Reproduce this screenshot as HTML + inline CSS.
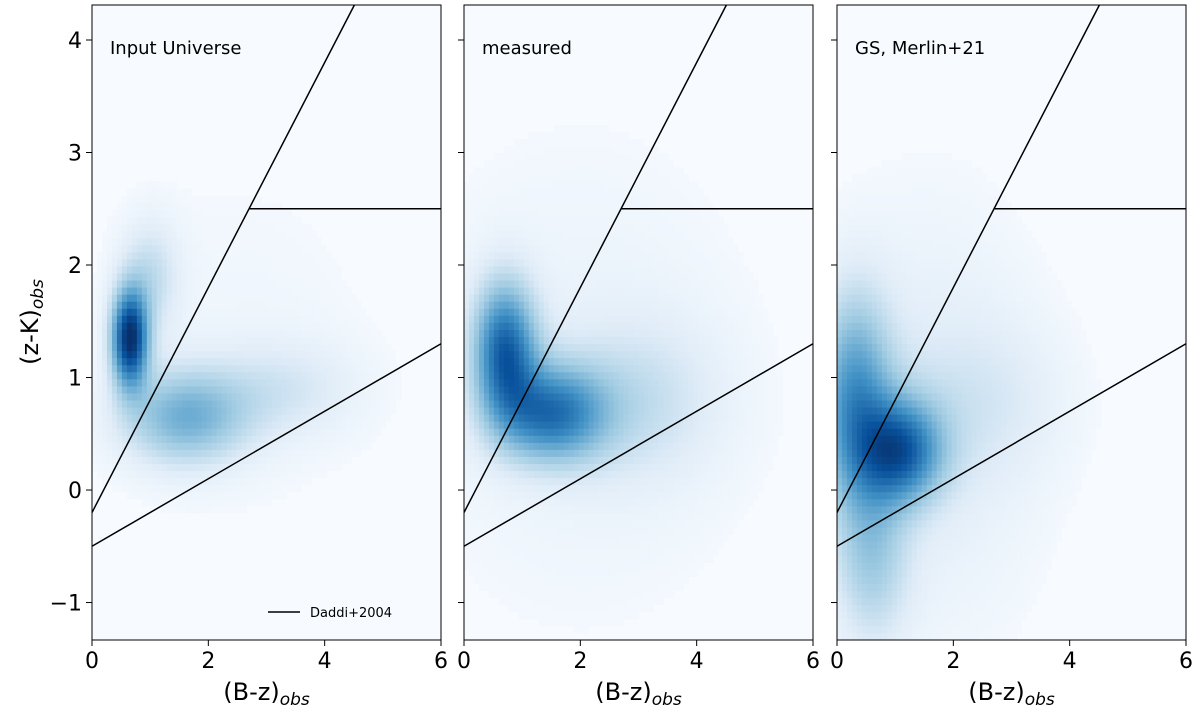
<!DOCTYPE html>
<html><head><meta charset="utf-8">
<style>
body{margin:0;background:#fff;}
svg{display:block;font-family:"DejaVu Sans","Liberation Sans",sans-serif;}
</style></head>
<body>
<svg id="chart" width="1200" height="714" viewBox="0 0 1200 714" xmlns="http://www.w3.org/2000/svg"></svg>
<script>
const panelTitles = ["Input Universe","measured","GS, Merlin+21"];
const xTicks = [0,2,4,6];
const yTicks = [-1,0,1,2,3,4];
// density components per panel: [x, y, sx, sy, weight]
const comps0 = [[0.65,1.35,0.22,0.3,1.0],[1.6,0.65,0.75,0.3,0.45],[3.3,0.9,0.9,0.3,0.15],[1.0,1.9,0.35,0.35,0.22],[2.5,1.3,2.0,1.3,0.05]];
const comps1 = [[0.7,1.25,0.38,0.42,0.75],[1.5,0.68,0.65,0.3,0.65],[3.0,0.8,1.0,0.5,0.18],[2.0,1.0,2.2,1.6,0.08]];
const comps2 = [[1.1,0.35,0.5,0.32,0.7],[0.3,0.8,0.45,0.65,0.55],[0.6,-0.6,0.45,0.55,0.28],[1.6,0.6,1.4,1.4,0.13],[2.6,0.8,1.0,0.5,0.1]];
const allComps = [comps0,comps1,comps2];
const daddiSlope = 1.0, daddiIntercept = -0.2;
const lowerSlope = 0.3, lowerIntercept = -0.5;
const horizY = 2.5, horizX0 = 2.7;

const NS="http://www.w3.org/2000/svg";
const svg=document.getElementById('chart');
const panelsX=[[92,441],[464,813],[837,1186]];
const yTop=5,yBot=640, xMin=0,xMax=6, yMinV=-1.333, yMaxV=4.311;
function ys(v){return yBot-(v-yMinV)/(yMaxV-yMinV)*(yBot-yTop);}
function mk(tag,attrs,parent){const e=document.createElementNS(NS,tag);for(const k in attrs)e.setAttribute(k,attrs[k]);(parent||svg).appendChild(e);return e;}
const stops=[[0,[247,251,255]],[0.15,[222,235,247]],[0.35,[158,202,225]],[0.6,[66,146,198]],[0.85,[8,81,156]],[1,[8,48,107]]];
function cmap(t){t=Math.max(0,Math.min(1,t));for(let i=1;i<stops.length;i++){if(t<=stops[i][0]){const a=stops[i-1],b=stops[i];const f=(t-a[0])/(b[0]-a[0]);return 'rgb('+a[1].map((c,j)=>Math.round(c+(b[1][j]-c)*f)).join(',')+')';}}return 'rgb(8,48,107)';}

panelsX.forEach((px,p)=>{
  const xs=v=>px[0]+(v-xMin)/(xMax-xMin)*(px[1]-px[0]);
  const g=mk('g',{});
  
  
  const bg=mk('rect',{x:px[0],y:yTop,width:px[1]-px[0],height:yBot-yTop,fill:'#f7fbff'},g);
  
  
  const cw=(px[1]-px[0])/70, ch=(yBot-yTop)/90;
  const hg=mk('g',{},g);
  
  
  for(let i=0;i<70;i++)for(let j=0;j<90;j++){
    const xv=xMin+(i+0.5)/70*(xMax-xMin), yv=yMinV+(j+0.5)/90*(yMaxV-yMinV);
    let d=0;allComps[p].forEach(c=>{d+=c[4]*Math.exp(-0.5*(((xv-c[0])/c[2])**2+((yv-c[1])/c[3])**2));});
    if(d<0.03)continue;
    mk('rect',{x:xs(xv)-cw/2,y:ys(yv)-ch/2,width:cw+0.4,height:ch+0.4,fill:cmap(d*0.95)},hg);
  }
  const x1=(yMaxV-daddiIntercept)/daddiSlope;
  const l1=mk('line',{x1:xs(0),y1:ys(daddiIntercept),x2:xs(x1),y2:ys(yMaxV),stroke:'#000','stroke-width':1.5},g);
  
  const l2=mk('line',{x1:xs(horizX0),y1:ys(horizY),x2:xs(6),y2:ys(horizY),stroke:'#000','stroke-width':1.5},g);
  
  const l3=mk('line',{x1:xs(0),y1:ys(lowerIntercept),x2:xs(6),y2:ys(lowerIntercept+lowerSlope*6),stroke:'#000','stroke-width':1.5},g);
  
  const fr=mk('rect',{x:px[0],y:yTop,width:px[1]-px[0],height:yBot-yTop,fill:'none',stroke:'#000','stroke-width':1},g);
  
  const t=mk('text',{x:px[0]+18,y:54,'font-size':18},g);t.textContent=panelTitles[p];
  
  xTicks.forEach(v=>{
    mk('line',{x1:xs(v),y1:yBot,x2:xs(v),y2:yBot+6,stroke:'#000'},g);
    const tt=mk('text',{x:xs(v),y:668,'font-size':22,'text-anchor':'middle'},g);tt.textContent=v;
    
  });
  yTicks.forEach(v=>{
    mk('line',{x1:px[0]-6,y1:ys(v),x2:px[0],y2:ys(v),stroke:'#000'},g);
    if(p===0){const tt=mk('text',{x:px[0]-10,y:ys(v)+8,'font-size':22,'text-anchor':'end'},g);tt.textContent=v<0?'\u2212'+Math.abs(v):v;
    }
  });
  const xl=mk('text',{x:(px[0]+px[1])/2,y:700,'font-size':24,'text-anchor':'middle'},g);
  xl.innerHTML='(B-z)<tspan font-style="italic" font-size="17" dy="5">obs</tspan>';
  
});
const yl=mk('text',{x:0,y:0,'font-size':24,'text-anchor':'middle',transform:'translate(38,322) rotate(-90)'});
yl.innerHTML='(z-K)<tspan font-style="italic" font-size="17" dy="5">obs</tspan>';

const lg=mk('g',{});

mk('line',{x1:268,y1:612,x2:300,y2:612,stroke:'#000','stroke-width':1.5},lg);
const lt=mk('text',{x:310,y:617,'font-size':13},lg);lt.textContent='Daddi+2004';

</script>
</body></html>
